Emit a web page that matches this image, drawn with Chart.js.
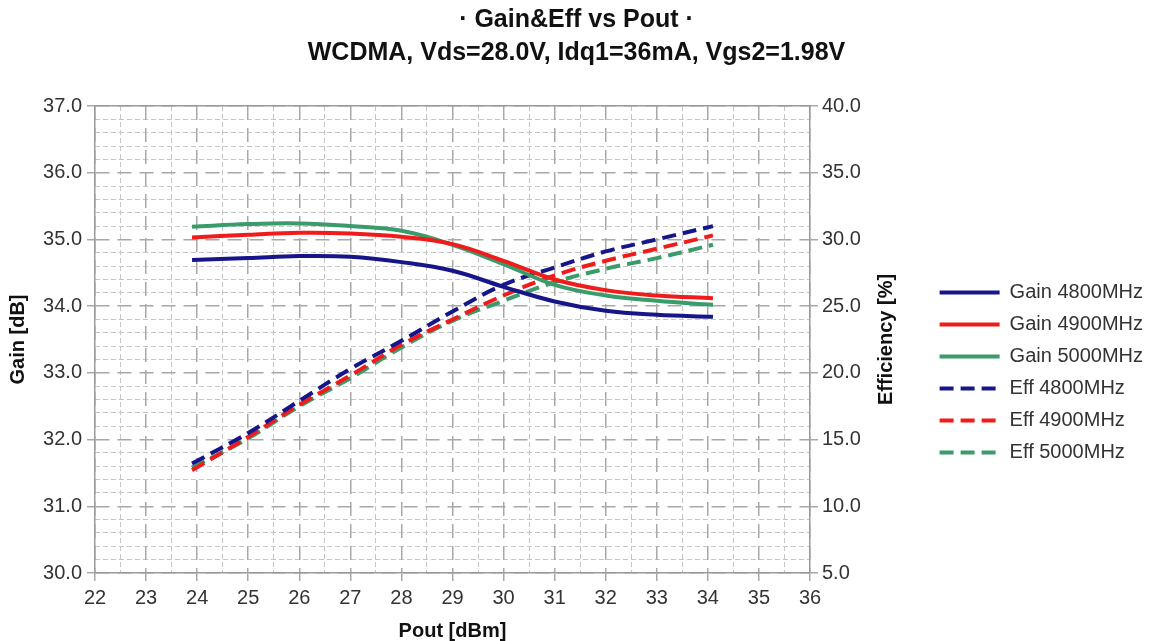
<!DOCTYPE html>
<html>
<head>
<meta charset="utf-8">
<script src="https://cdn.jsdelivr.net/npm/chart.js@4.4.1/dist/chart.umd.min.js"></script>
<style>
body { margin: 0; background: #fff; }
</style>
</head>
<body>
<canvas id="gainEffChart" width="1157" height="641"></canvas>
<script>
// Pout [dBm] sample points
var pout = [23.9, 25, 26, 27, 28, 29, 30, 31, 32, 33, 34.1];

// Gain [dB]
var gain4800 = [34.69, 34.72, 34.75, 34.74, 34.66, 34.53, 34.29, 34.07, 33.93, 33.87, 33.84];
var gain4900 = [35.03, 35.07, 35.10, 35.09, 35.04, 34.93, 34.68, 34.40, 34.24, 34.16, 34.12];
var gain5000 = [35.19, 35.23, 35.24, 35.20, 35.13, 34.92, 34.63, 34.32, 34.16, 34.08, 34.02];

// Efficiency [%]
var eff4800 = [13.2, 15.5, 17.9, 20.3, 22.4, 24.6, 26.6, 27.9, 29.1, 30.0, 31.0];
var eff4900 = [12.7, 15.2, 17.6, 19.8, 22.1, 24.0, 25.8, 27.3, 28.4, 29.3, 30.3];
var eff5000 = [12.9, 15.1, 17.5, 19.6, 21.9, 23.9, 25.4, 26.8, 27.8, 28.6, 29.6];

var titleLines = ["\u00b7 Gain&Eff vs Pout \u00b7", "WCDMA, Vds=28.0V, Idq1=36mA, Vgs2=1.98V"];

var blue = "#16168a";
var red = "#f01c1c";
var green = "#3a9b6b";
var fontFamily = "'Liberation Sans', Arial, sans-serif";

function isWhole(v) {
    return Math.abs(v - Math.round(v)) < 1e-6;
}

function points(ys) {
    return pout.map(function (x, i) { return { x: x, y: ys[i] }; });
}

function minorGrid(ctx) {
    if (ctx.tick && isWhole(ctx.tick.value)) return "rgba(0,0,0,0)";
    return "#c6c6c6";
}

// right axis title reads bottom-to-top in the original
var effTitle = {
    id: "effTitle",
    afterDraw: function (chart) {
        var c = chart.ctx;
        var area = chart.chartArea;
        c.save();
        c.translate(area.right + 76, (area.top + area.bottom) / 2);
        c.rotate(-Math.PI / 2);
        c.font = "bold 20px " + fontFamily;
        c.fillStyle = "#111";
        c.textAlign = "center";
        c.textBaseline = "middle";
        c.fillText("Efficiency [%]", 0, 0);
        c.restore();
    }
};

function gainEffChart() {
    var data = {
        datasets: [
            { label: "Gain 4800MHz", data: points(gain4800), borderColor: blue, yAxisID: "y" },
            { label: "Gain 4900MHz", data: points(gain4900), borderColor: red, yAxisID: "y" },
            { label: "Gain 5000MHz", data: points(gain5000), borderColor: green, yAxisID: "y" },
            { label: "Eff 4800MHz", data: points(eff4800), borderColor: blue, borderDash: [14, 7], yAxisID: "y1" },
            { label: "Eff 4900MHz", data: points(eff4900), borderColor: red, borderDash: [14, 7], yAxisID: "y1" },
            { label: "Eff 5000MHz", data: points(eff5000), borderColor: green, borderDash: [14, 7], yAxisID: "y1" }
        ]
    };

    new Chart(document.getElementById("gainEffChart"), {
        type: "line",
        data: data,
        plugins: [effTitle],
        options: {
            responsive: false,
            animation: false,
            devicePixelRatio: 1,
            layout: { padding: { left: 0, right: 4, top: 0, bottom: 0 } },
            elements: {
                point: { radius: 0 },
                line: { tension: 0.4, borderWidth: 4, fill: false }
            },
            plugins: {
                title: {
                    display: true,
                    text: titleLines,
                    color: "#111",
                    font: { family: fontFamily, size: 25, weight: "bold", lineHeight: 1.3 },
                    padding: { top: 4, bottom: 37 }
                },
                legend: {
                    position: "right",
                    maxWidth: 240,
                    title: { display: true, text: " ", padding: { top: 0, bottom: 80 }, font: { size: 20 } },
                    labels: {
                        usePointStyle: true,
                        pointStyleWidth: 60,
                        padding: 12,
                        color: "#333",
                        font: { family: fontFamily, size: 20 },
                        generateLabels: function (chart) {
                            return chart.data.datasets.map(function (ds, i) {
                                return {
                                    text: ds.label,
                                    strokeStyle: ds.borderColor,
                                    fillStyle: ds.borderColor,
                                    lineWidth: 4,
                                    lineDash: ds.borderDash || [],
                                    pointStyle: "line",
                                    fontColor: "#333",
                                    hidden: false,
                                    datasetIndex: i
                                };
                            });
                        }
                    }
                },
                tooltip: { enabled: false }
            },
            scales: {
                xMinor: {
                    type: "linear", position: "bottom", min: 22, max: 36,
                    ticks: { display: false, stepSize: 0.5 },
                    grid: { color: minorGrid, lineWidth: 1, drawTicks: false },
                    border: { display: false, dash: [5, 3] }
                },
                yMinor: {
                    type: "linear", position: "left", min: 30, max: 37,
                    ticks: { display: false, stepSize: 0.2 },
                    grid: { color: minorGrid, lineWidth: 1, drawTicks: false },
                    border: { display: false, dash: [5, 3] }
                },
                xTop: {
                    type: "linear", position: "top", min: 22, max: 36,
                    ticks: { display: false },
                    grid: { drawOnChartArea: false, drawTicks: false },
                    border: { color: "#9a9a9a", width: 1.5 }
                },
                x: {
                    type: "linear", position: "bottom", min: 22, max: 36,
                    ticks: { stepSize: 1, padding: 5, color: "#333", font: { family: fontFamily, size: 20 } },
                    grid: { color: "#a8a8a8", lineWidth: 1.5, tickLength: 8 },
                    border: { color: "#9a9a9a", width: 1.5, dash: [14, 8] },
                    title: {
                        display: true, text: "Pout [dBm]", color: "#111",
                        font: { family: fontFamily, size: 20, weight: "bold", lineHeight: 1 },
                        padding: { top: 6, bottom: 0 }
                    }
                },
                y: {
                    type: "linear", position: "left", min: 30, max: 37,
                    afterFit: function (scale) { scale.width = 95; },
                    ticks: {
                        stepSize: 1, padding: 5, color: "#333", font: { family: fontFamily, size: 20 },
                        callback: function (v) { return v.toFixed(1); }
                    },
                    grid: { color: "#a8a8a8", lineWidth: 1.5, tickLength: 8 },
                    border: { color: "#9a9a9a", width: 1.5, dash: [14, 8] },
                    title: {
                        display: true, text: "Gain [dB]", color: "#111",
                        font: { family: fontFamily, size: 20, weight: "bold" },
                        padding: { top: 6, bottom: 12 }
                    }
                },
                y1: {
                    type: "linear", position: "right", min: 5, max: 40,
                    afterFit: function (scale) {
                        // keep the plot's right edge at x = 810
                        scale.width = scale.chart.width - 4 - scale.chart.legend.width - 810;
                    },
                    ticks: {
                        stepSize: 5, padding: 4, color: "#333", font: { family: fontFamily, size: 20 },
                        callback: function (v) { return v.toFixed(1); }
                    },
                    grid: { drawOnChartArea: false, color: "#a8a8a8", lineWidth: 1.5, tickLength: 8 },
                    border: { color: "#9a9a9a", width: 1.5 }
                }
            }
        }
    });
}

gainEffChart();
</script>
</body>
</html>
